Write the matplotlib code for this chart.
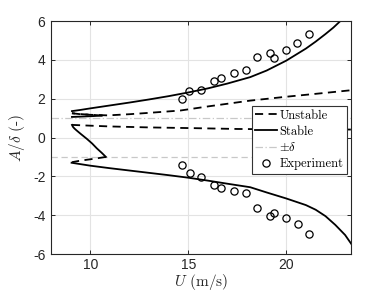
import matplotlib
matplotlib.use("Agg")
import matplotlib.pyplot as plt
from matplotlib.lines import Line2D

# ---- data ----
exp_u_up = [14.68, 15.05, 15.66, 16.31, 16.68, 17.33, 17.93, 18.52, 19.17, 19.35, 19.97, 20.56, 21.17]
exp_a_up = [1.96, 2.37, 2.46, 2.92, 3.09, 3.31, 3.47, 4.14, 4.35, 4.11, 4.52, 4.85, 5.35]
exp_u_lo = [14.68, 15.07, 15.66, 16.29, 16.68, 17.33, 17.94, 18.52, 19.15, 19.37, 19.97, 20.58, 21.17]
exp_a_lo = [-1.41, -1.82, -2.01, -2.44, -2.59, -2.77, -2.84, -3.63, -4.02, -3.90, -4.16, -4.43, -4.98]

stab_up_u = [9.07, 9.5, 10, 11, 12, 13, 14, 15, 16, 17, 18.16, 19, 20, 21, 21.5, 22, 22.4, 22.76]
stab_up_a = [1.36, 1.42, 1.5, 1.65, 1.8, 1.96, 2.13, 2.32, 2.53, 2.78, 3.11, 3.45, 3.96, 4.58, 4.94, 5.33, 5.66, 6.0]

stab_lo_u = [9.05, 10, 11, 12, 13, 14, 15, 16, 17, 18.16, 19, 20, 21, 21.5, 22, 22.5, 23, 23.33]
stab_lo_a = [-1.30, -1.45, -1.58, -1.70, -1.82, -1.94, -2.07, -2.22, -2.38, -2.56, -2.83, -3.14, -3.48, -3.72, -4.05, -4.5, -5.02, -5.50]

unst_up_u = [9.07, 9.5, 10, 10.9, 12, 13, 14.6, 16, 18.16, 20, 22, 23.35]
unst_up_a = [1.25, 1.2, 1.17, 1.14, 1.2, 1.27, 1.39, 1.6, 1.9, 2.1, 2.3, 2.44]

unst_lo_u = [9.07, 10, 11, 13, 15.4, 17.5, 20, 23.35]
unst_lo_a = [0.65, 0.61, 0.57, 0.52, 0.48, 0.44, 0.42, 0.41]

fold_lo_stab_u = [9.07, 9.12, 9.2, 9.3, 9.5, 9.83, 10.1, 10.34, 10.6, 10.8]
fold_lo_stab_a = [0.65, 0.55, 0.46, 0.37, 0.2, -0.07, -0.31, -0.56, -0.8, -1.0]
fold_lo_unst_u = [10.8, 10.3, 9.8, 9.4, 9.07]
fold_lo_unst_a = [-1.0, -1.08, -1.15, -1.21, -1.27]

fold_up_stab_u = [9.07, 9.6, 10.1, 10.6]
fold_up_stab_a = [1.06, 1.08, 1.1, 1.13]
fold_up_unst_u = [10.6, 10.1, 9.6, 9.07]
fold_up_unst_a = [1.13, 1.17, 1.2, 1.25]

delta = 1.0
xticks = [10, 15, 20]
yticks = [-6, -4, -2, 0, 2, 4, 6]

# ---- style ----
plt.rcParams['mathtext.fontset'] = 'cm'
plt.rcParams['axes.unicode_minus'] = False
tickfont = 'Liberation Sans'
serif = 'cmr10'

fig = plt.figure(figsize=(3.88, 2.91), dpi=100)
ax = fig.add_axes([0.1314, 0.1271, 0.7732, 0.8007])

lw = 1.3
dash = (0, (4.5, 3.0))
dashdot = (0, (6, 2, 1, 2))
ax.axhline(delta, color='#c8c8c8', lw=0.9, ls=dashdot, zorder=1)
ax.axhline(-delta, color='#c8c8c8', lw=0.9, ls=(0, (5, 3)), zorder=1)

ax.plot(unst_up_u, unst_up_a, color='k', lw=lw, ls=dash)
ax.plot(unst_lo_u, unst_lo_a, color='k', lw=lw, ls=dash)
ax.plot(fold_lo_unst_u, fold_lo_unst_a, color='k', lw=lw, ls=dash)
ax.plot(fold_up_unst_u, fold_up_unst_a, color='k', lw=lw, ls=dash)
ax.plot(stab_up_u, stab_up_a, color='k', lw=lw)
ax.plot(stab_lo_u, stab_lo_a, color='k', lw=lw)
ax.plot(fold_lo_stab_u, fold_lo_stab_a, color='k', lw=lw)
ax.plot(fold_up_stab_u, fold_up_stab_a, color='k', lw=lw)
ax.plot(exp_u_up, exp_a_up, 'o', mfc='none', mec='k', ms=5.2, mew=0.9)
ax.plot(exp_u_lo, exp_a_lo, 'o', mfc='none', mec='k', ms=5.2, mew=0.9)

handles = [
    Line2D([], [], color='k', lw=lw, ls=dash),
    Line2D([], [], color='k', lw=lw),
    Line2D([], [], color='#c8c8c8', lw=0.9, ls=dashdot),
    Line2D([], [], marker='o', ls='none', mfc='none', mec='k', ms=5.2, mew=0.9),
]
labels = ['Unstable', 'Stable', r'$\pm\delta$', 'Experiment']
leg = ax.legend(handles, labels, loc='upper left', bbox_to_anchor=(0.669, 0.636),
                frameon=True, fancybox=False, edgecolor='#333333', framealpha=1,
                prop={'family': serif, 'size': 9}, handlelength=1.7,
                handletextpad=0.2, borderpad=0.3, labelspacing=0.3, borderaxespad=0)
leg.get_frame().set_linewidth(0.8)

ax.set_xlim(8, 23.3)
ax.set_ylim(-6, 6)
ax.set_xticks(xticks)
ax.set_yticks(yticks)
ax.grid(True, color='#e3e3e3', lw=0.8)
ax.set_axisbelow(True)
for s in ax.spines.values():
    s.set_color('#262626')
    s.set_linewidth(0.8)
ax.tick_params(direction='in', length=3, width=0.7, colors='#262626',
               labelsize=10, top=True, right=True, pad=4)
ax.tick_params(axis='x', pad=3)
for lab in ax.get_xticklabels() + ax.get_yticklabels():
    lab.set_fontfamily(tickfont)

ax.set_xlabel(r'$U$ (m/s)', fontsize=11, fontfamily=serif, color='#262626', labelpad=0)
ax.set_ylabel(r'$A/\delta$ (-)', fontsize=11, fontfamily=serif, color='#262626', labelpad=4)

fig.savefig('out.png', dpi=100)
